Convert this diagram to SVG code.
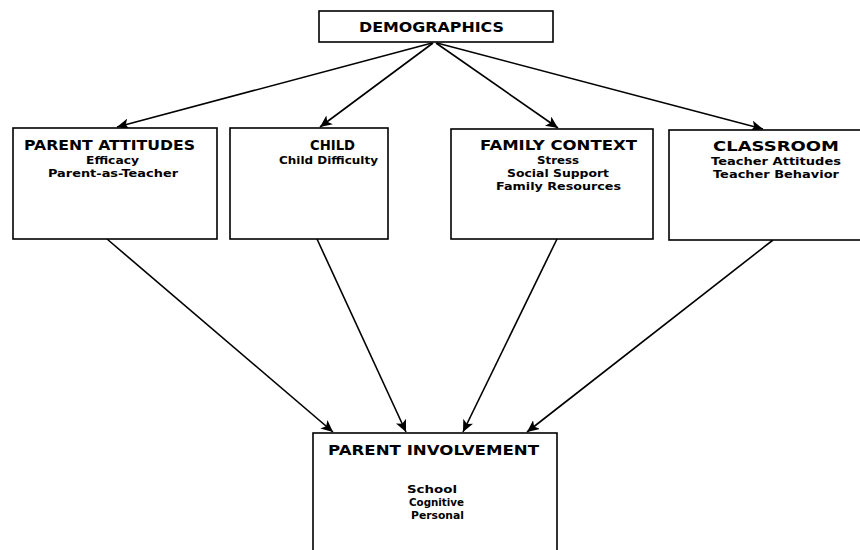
<svg xmlns="http://www.w3.org/2000/svg" width="860" height="550" viewBox="0 0 860 550">
<style>
.box{fill:#fff;stroke:#000;stroke-width:1.6}
.t{font-family:"DejaVu Sans","Liberation Sans",sans-serif;font-weight:bold;fill:#000;text-anchor:middle}
.h{font-size:14px}
.s{font-size:11px}
.c{stroke:#000;stroke-width:1.6;fill:none;marker-end:url(#ah)}
</style>
<defs>
<marker id="ah" markerUnits="userSpaceOnUse" markerWidth="13" markerHeight="11" refX="12" refY="5.5" orient="auto">
<path d="M0,0 L12,5.5 L0,11 L3,5.5 z" fill="#000"/>
</marker>
</defs>
<rect width="860" height="550" fill="#fff"/>
<g id="connectors">
<line class="c" x1="432" y1="43" x2="117" y2="127"/>
<line class="c" x1="433" y1="43" x2="320" y2="127"/>
<line class="c" x1="436" y1="43" x2="558" y2="128"/>
<line class="c" x1="437" y1="43" x2="763" y2="129"/>
<line class="c" x1="107" y1="239" x2="333" y2="432"/>
<line class="c" x1="317" y1="239" x2="406" y2="432"/>
<line class="c" x1="557" y1="239" x2="463" y2="432"/>
<line class="c" x1="773" y1="240" x2="527" y2="432"/>
</g>
<g id="demographics">
<rect class="box" x="319" y="11" width="234" height="31"/>
<text class="t h" x="431.5" y="32" textLength="145" lengthAdjust="spacingAndGlyphs">DEMOGRAPHICS</text>
</g>
<g id="parent-attitudes">
<rect class="box" x="13" y="128" width="204" height="111"/>
<text class="t h" x="109.5" y="150" textLength="171" lengthAdjust="spacingAndGlyphs">PARENT ATTITUDES</text>
<text class="t s" x="112.5" y="164" textLength="53" lengthAdjust="spacingAndGlyphs">Efficacy</text>
<text class="t s" x="113" y="177" textLength="130" lengthAdjust="spacingAndGlyphs">Parent-as-Teacher</text>
</g>
<g id="child">
<rect class="box" x="230" y="128" width="158" height="111"/>
<text class="t h" x="332.5" y="150" textLength="45" lengthAdjust="spacingAndGlyphs">CHILD</text>
<text class="t s" x="328.5" y="164" textLength="99" lengthAdjust="spacingAndGlyphs">Child Difficulty</text>
</g>
<g id="family-context">
<rect class="box" x="451" y="129" width="202" height="110"/>
<text class="t h" x="558.5" y="150" textLength="157" lengthAdjust="spacingAndGlyphs">FAMILY CONTEXT</text>
<text class="t s" x="558" y="164" textLength="42" lengthAdjust="spacingAndGlyphs">Stress</text>
<text class="t s" x="558" y="177" textLength="102" lengthAdjust="spacingAndGlyphs">Social Support</text>
<text class="t s" x="558.5" y="190" textLength="125" lengthAdjust="spacingAndGlyphs">Family Resources</text>
</g>
<g id="classroom">
<rect class="box" x="669" y="130" width="196" height="110"/>
<text class="t h" x="776" y="151" textLength="126" lengthAdjust="spacingAndGlyphs">CLASSROOM</text>
<text class="t s" x="776" y="165" textLength="130" lengthAdjust="spacingAndGlyphs">Teacher Attitudes</text>
<text class="t s" x="776" y="178" textLength="126" lengthAdjust="spacingAndGlyphs">Teacher Behavior</text>
</g>
<g id="parent-involvement">
<rect class="box" x="313" y="433" width="244" height="130"/>
<text class="t h" x="433.5" y="455" textLength="211" lengthAdjust="spacingAndGlyphs">PARENT INVOLVEMENT</text>
<text class="t s" x="432" y="493" textLength="50" lengthAdjust="spacingAndGlyphs">School</text>
<text class="t s" x="436.5" y="506" textLength="55" lengthAdjust="spacingAndGlyphs">Cognitive</text>
<text class="t s" x="437.5" y="519" textLength="53" lengthAdjust="spacingAndGlyphs">Personal</text>
</g>
</svg>
